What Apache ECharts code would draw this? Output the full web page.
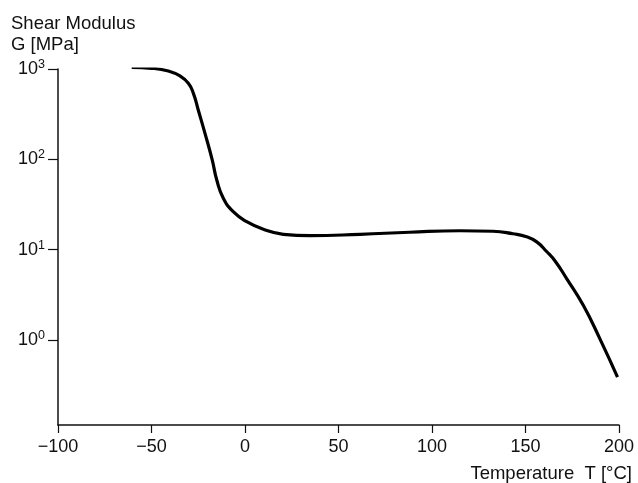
<!DOCTYPE html>
<html>
<head>
<meta charset="utf-8">
<script src="https://cdn.jsdelivr.net/npm/echarts@6/dist/echarts.min.js"></script>
<style>
  html, body { margin: 0; padding: 0; background: #fff; }
  #chart { width: 638px; height: 483px; }
</style>
</head>
<body>
<div id="chart"></div>
<script>
"use strict";

// temperature [°C] and shear modulus G [MPa]
var tempC = [-60.6, -49.9, -41, -34.8, -30.3, -27.6, -25, -21.4, -17.5, -15.1, -11.6, -6.3, 0.9, 9.8, 20.5, 34.8, 61.5, 88, 115, 132.6, 143.3, 150.6, 156, 161.3, 166, 172, 180.9, 189.8, 199.2];
var shearG = [1040, 1018, 950, 837, 695, 538, 352, 194, 98, 59, 37.1, 26.3, 20.4, 16.8, 14.8, 14.3, 14.8, 15.6, 16.2, 16.0, 15.0, 13.9, 12.2, 9.55, 7.4, 4.79, 2.42, 1.03, 0.389];

var xTicks = [-100, -50, 0, 50, 100, 150, 200];
var yTicks = [1, 10, 100, 1000];

var fontFam = "'Liberation Sans', Arial, sans-serif";

(function (document, window) {
  var chart = echarts.init(document.getElementById("chart"), null, { renderer: "canvas" });

  var pts = [];
  for (var i = 0; i < tempC.length; i++) {
    pts.push([tempC[i], shearG[i]]);
  }

  var option = {
    backgroundColor: "#fff",
    animation: false,
    textStyle: { fontFamily: fontFam, color: "#111" },
    title: [{
      text: "Shear Modulus\nG [MPa]",
      left: 6,
      top: 8,
      textStyle: { fontFamily: fontFam, fontSize: 18.5, fontWeight: "normal", color: "#111", lineHeight: 21 }
    }, {
      text: "Temperature  T [°C]",
      right: 1,
      top: 459,
      textStyle: { fontFamily: fontFam, fontSize: 18.5, fontWeight: "normal", color: "#111" }
    }],
    grid: { left: 58, right: 19, top: 69, bottom: 58, containLabel: false },
    xAxis: {
      type: "value",
      min: xTicks[0],
      max: xTicks[xTicks.length - 1],
      interval: 50,
      axisLine: { show: true, lineStyle: { color: "#111", width: 1.5 } },
      axisTick: { show: true, length: 8, lineStyle: { color: "#111", width: 1.2 } },
      axisLabel: {
        margin: 13,
        fontSize: 18,
        color: "#111",
        fontFamily: fontFam,
        formatter: function (v) { return v < 0 ? "\u2212" + Math.abs(v) : String(v); }
      },
      splitLine: { show: false }
    },
    yAxis: {
      type: "log",
      logBase: 10,
      min: 0.1146,
      max: 1000,
      axisLine: { show: true, onZero: false, lineStyle: { color: "#111", width: 1.5 } },
      axisTick: { show: true, length: 10, customValues: yTicks, lineStyle: { color: "#111", width: 1.2 } },
      minorTick: { show: false },
      axisLabel: {
        margin: 13,
        customValues: yTicks,
        formatter: function (v) {
          return "{b|10}{s|" + Math.round(Math.log10(v)) + "}";
        },
        rich: {
          b: { fontSize: 18, fontFamily: fontFam, color: "#111", lineHeight: 22 },
          s: { fontSize: 12.5, fontFamily: fontFam, color: "#111", verticalAlign: "top", lineHeight: 22 }
        }
      },
      splitLine: { show: false }
    },
    series: [{
      type: "line",
      data: pts,
      smooth: 0.5,
      showSymbol: false,
      lineStyle: { color: "#000", width: 3.2 }
    }]
  };

  chart.setOption(option);
})(document, window);
</script>
</body>
</html>
